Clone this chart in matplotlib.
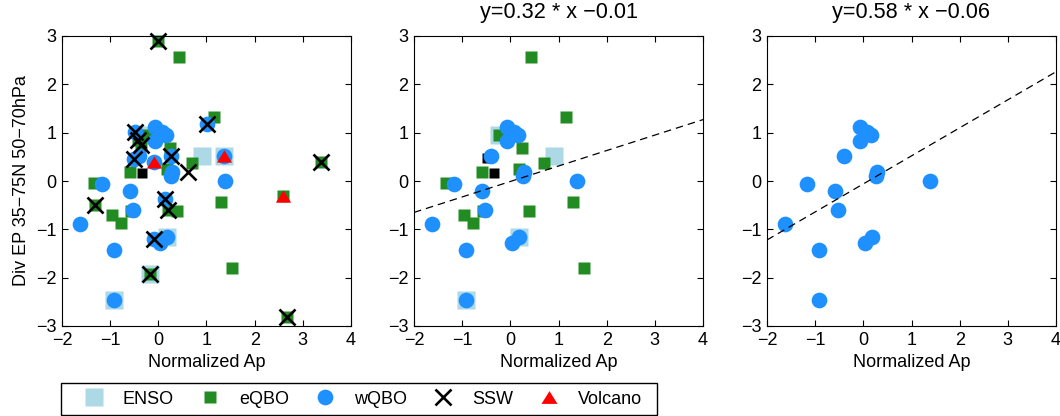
import numpy as np
import matplotlib
matplotlib.use('Agg')
import matplotlib.pyplot as plt
from matplotlib.lines import Line2D
from matplotlib.patches import Rectangle

# events: normalized Ap vs EP flux divergence
ap = np.array([-1.62, -1.16, -0.93, -0.93, -0.58, -0.53, -0.40, -0.07, -0.07, 0.08, 0.16, 0.29, 0.26, 0.04, 0.18, 1.38,
               -1.34, -0.97, -0.78, -0.59, -0.57, -0.24, 0.25, 0.19, 0.42, 0.38, 0.69, 1.16, 1.31, 1.52,
               -0.48, -0.33, 0.90,
               0.00, -1.31, -0.48, -0.43, -0.36, -0.50, 0.26, 0.62, 1.01, 0.14, 0.21, -0.10, -0.17, 3.38, 2.67,
               -0.10, 1.37, 2.58])
div = np.array([-0.88, -0.06, -1.43, -2.46, -0.21, -0.60, 0.52, 1.12, 0.83, 1.02, 0.95, 0.19, 0.11, -1.28, -1.16, -0.01,
                -0.05, -0.70, -0.86, 0.18, -0.63, 0.96, 0.69, 0.24, 2.57, -0.63, 0.37, 1.32, -0.43, -1.81,
                0.47, 0.17, 0.52,
                2.90, -0.50, 1.02, 0.85, 0.74, 0.45, 0.52, 0.19, 1.18, -0.37, -0.60, -1.20, -1.93, 0.39, -2.82,
                0.39, 0.51, -0.31])
qbo = np.array(['w'] * 16 + ['e'] * 14 + ['k', 'k', ''] +
               ['e', 'e', 'w', 'e', 'e', 'w', 'w', '', 'w', 'w', 'e', 'w', 'e', 'e', 'e'] +
               ['w', 'w', 'e'])
enso = np.zeros(len(ap), bool)
enso[[3, 14, 21, 32, 45, 49]] = True
ssw = np.zeros(len(ap), bool)
ssw[33:48] = True
volc = np.zeros(len(ap), bool)
volc[48:51] = True

# regression lines (slope, intercept) shown in the titles
fits = [None, (0.32, -0.01), (0.58, -0.06)]

plt.rcParams['font.family'] = ['Liberation Sans', 'DejaVu Sans']
plt.rcParams['font.size'] = 13

# flattened triangle like the matlab one
tri = [(0, 0.8), (-1, -0.8), (1, -0.8)]

fig = plt.figure(figsize=(10.6, 4.16), dpi=100)
lefts = [62, 414, 767]
axes = [fig.add_axes([l / 1060, 1 - 326 / 416, 289 / 1060, 290 / 416]) for l in lefts]

quiet = ~ssw & ~volc
masks = [np.ones(len(ap), bool), quiet, quiet]

for i, ax in enumerate(axes):
    m = masks[i]
    kw = dict(ls='none', mec='none', clip_on=False)
    if i < 2:
        ax.plot(ap[m & enso], div[m & enso], 's', ms=13, mfc='lightblue', **kw)
        ax.plot(ap[m & (qbo == 'e')], div[m & (qbo == 'e')], 's', ms=8.8, mfc='forestgreen', **kw)
        ax.plot(ap[m & (qbo == 'k')], div[m & (qbo == 'k')], 's', ms=7, mfc='black', **kw)
    ax.plot(ap[m & (qbo == 'w')], div[m & (qbo == 'w')], 'o', ms=11.3, mfc='dodgerblue', **kw)
    if i == 0:
        ax.plot(ap[ssw], div[ssw], 'x', ms=11, mew=1.9, color='black', ls='none', clip_on=False)
        ax.plot(ap[volc], div[volc], marker=tri, ms=11, mfc='red', **kw)

    if fits[i] is not None:
        a, b = fits[i]
        xx = np.array([-2, 4])
        ax.plot(xx, a * xx + b, '--', color='black', lw=0.9, dashes=(6, 4))
        ax.set_title(f'y={a:.2f} * x \u2212{abs(b):.2f}', pad=13)

    ax.set_xlim(-2, 4)
    ax.set_ylim(-3, 3)
    ax.set_xticks(range(-2, 5))
    ax.set_yticks(range(-3, 4))
    ax.tick_params(direction='in', top=True, right=True, length=4, width=0.8, pad=4)
    ax.set_xlabel('Normalized Ap')
    if i == 0:
        ax.set_ylabel('Div EP 35\u221275N 50\u221270hPa')

handles = [Line2D([], [], ls='none', marker='s', ms=13, mfc='lightblue', mec='none'),
           Line2D([], [], ls='none', marker='s', ms=9, mfc='forestgreen', mec='none'),
           Line2D([], [], ls='none', marker='o', ms=11.3, mfc='dodgerblue', mec='none'),
           Line2D([], [], ls='none', marker='x', ms=12, mew=1.9, color='black'),
           Line2D([], [], ls='none', marker=tri, ms=11.5, mfc='red', mec='none')]
labels = ['ENSO', 'eQBO', 'wQBO', 'SSW', 'Volcano']
leg = fig.legend(handles, labels, loc='center left', bbox_to_anchor=(70.4 / 1060, 1 - 399 / 416), ncol=5,
                 frameon=False, borderpad=0.3, handlelength=2.0,
                 handletextpad=0.6, columnspacing=1.0, borderaxespad=0)
# matlab style legend box, wider padding on the left than matplotlib gives
fig.add_artist(Rectangle((60.7 / 1060, 1 - 415 / 416), 596.6 / 1060, 31.7 / 416, transform=fig.transFigure,
                         fill=False, ec='black', lw=1.0))

fig.savefig('out.png', dpi=100)
